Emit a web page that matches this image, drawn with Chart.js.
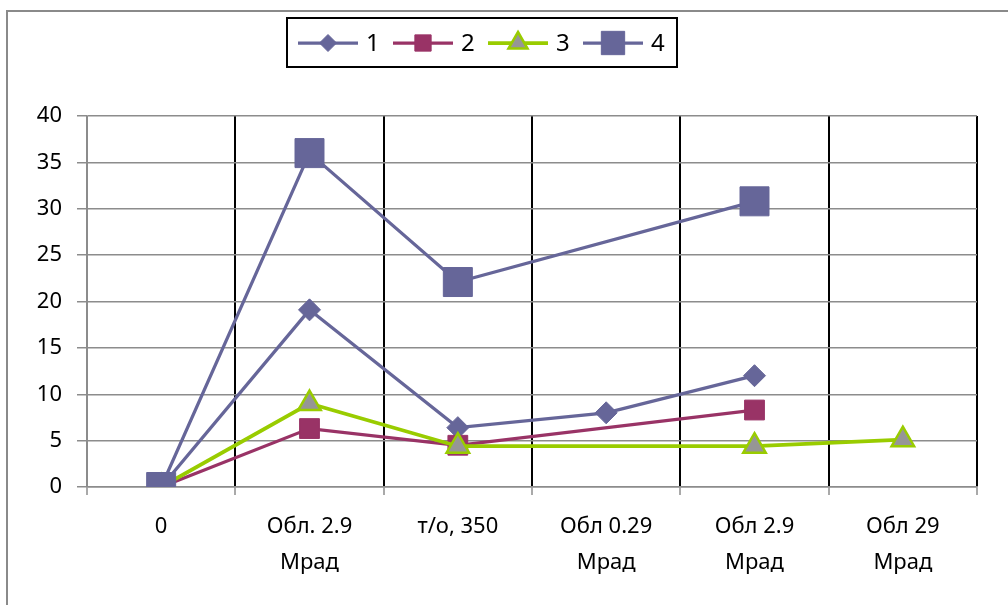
<!DOCTYPE html>
<html>
<head>
<meta charset="utf-8">
<script src="https://cdn.jsdelivr.net/npm/chart.js@4/dist/chart.umd.min.js"></script>
<style>
  html, body { margin: 0; padding: 0; background: #fff; }
  #wrap { width: 1008px; height: 605px; position: relative; }
</style>
</head>
<body>
<div id="wrap"><canvas id="c" width="1008" height="605"></canvas></div>
<script>
// Categories along the x axis (two-line labels where the label wraps)
const categories = ['0', ['Обл. 2.9', 'Мрад'], 'т/о, 350', ['Обл 0.29', 'Мрад'], ['Обл 2.9', 'Мрад'], ['Обл 29', 'Мрад']];

// Series names and values
const seriesNames = ['1', '2', '3', '4'];
const series1 = [0, 19.1, 6.4, 8.0, 12.0, null];
const series2 = [0, 6.3, 4.5, null, 8.3, null];
const series3 = [0, 9.0, 4.4, null, 4.4, 5.1];
const series4 = [0, 36.0, 22.1, null, 30.8, null];

// Value axis ticks
const yMin = 0, yMax = 40, yStep = 5;

const FONT = '"Noto Sans", "DejaVu Sans", sans-serif';
const GRID_GREY = '#8c8c8c';

// Line colour, marker fill, marker shape, marker radius (plot / legend), marker border
const styles = [
  { line: '#666699', fill: '#666699', style: 'rectRot',  r: 11,   lr: 8.5,  bw: 1,   lw: 3.25 },
  { line: '#993366', fill: '#993366', style: 'rect',     r: 14,   lr: 11.5, bw: 1,   lw: 3.25 },
  { line: '#99cc00', fill: '#969696', style: 'triangle', r: 13,   lr: 11,   bw: 2.5, lw: 3.75 },
  { line: '#666699', fill: '#666699', style: 'rect',     r: 20.5, lr: 16.5, bw: 1,   lw: 3.25 }
];
const seriesData = [series1, series2, series3, series4];

const datasets = seriesData.map((d, i) => ({
  label: seriesNames[i],
  data: d,
  borderColor: styles[i].line,
  backgroundColor: styles[i].fill,
  borderWidth: styles[i].lw,
  pointStyle: styles[i].style,
  pointRadius: styles[i].r,
  pointHoverRadius: styles[i].r,
  pointBackgroundColor: styles[i].fill,
  pointBorderColor: i === 2 ? styles[i].line : styles[i].fill,
  pointBorderWidth: styles[i].bw,
  spanGaps: true,
  tension: 0,
  order: 3 - i   // later series are painted on top
}));

// Outer frame of the chart object
const framePlugin = {
  id: 'frame',
  beforeDraw(chart) {
    const ctx = chart.ctx;
    ctx.save();
    ctx.strokeStyle = '#8a8a8a';
    ctx.lineWidth = 2;
    ctx.beginPath();
    ctx.moveTo(7, 605);
    ctx.lineTo(7, 11);
    ctx.lineTo(1008, 11);
    ctx.stroke();
    ctx.restore();
  }
};

// Boxed legend: line segment with marker, then series name
const legendPlugin = {
  id: 'boxLegend',
  afterDraw(chart) {
    const ctx = chart.ctx;
    const drawPoint = Chart.helpers.drawPoint;
    ctx.save();
    ctx.strokeStyle = '#000';
    ctx.lineWidth = 2;
    ctx.strokeRect(287, 18, 390, 49);
    const cy = 43;
    chart.data.datasets.forEach((ds, i) => {
      const x0 = 298 + i * 95;
      const x1 = x0 + 60;
      ctx.strokeStyle = ds.borderColor;
      ctx.lineWidth = ds.borderWidth;
      ctx.beginPath();
      ctx.moveTo(x0, cy);
      ctx.lineTo(x1, cy);
      ctx.stroke();
      ctx.fillStyle = ds.pointBackgroundColor;
      ctx.strokeStyle = ds.pointBorderColor;
      ctx.lineWidth = ds.pointBorderWidth;
      drawPoint(ctx, { pointStyle: ds.pointStyle, rotation: 0, radius: styles[i].lr, borderWidth: ds.pointBorderWidth }, (x0 + x1) / 2, cy);
      ctx.fillStyle = '#000';
      ctx.font = '24px ' + FONT;
      ctx.textBaseline = 'middle';
      ctx.textAlign = 'left';
      ctx.fillText(ds.label, x1 + 8, cy + 1);
    });
    ctx.restore();
  }
};

new Chart(document.getElementById('c'), {
  type: 'line',
  data: { labels: categories, datasets },
  options: {
    responsive: false,
    animation: false,
    devicePixelRatio: 1,
    layout: { padding: { left: 0, top: 116, right: 31, bottom: 0 } },
    plugins: {
      legend: { display: false },
      tooltip: { enabled: false }
    },
    scales: {
      x: {
        offset: true,
        grid: {
          offset: true,
          color: (c) => c.index === 0 ? GRID_GREY : '#000',
          lineWidth: 2,
          tickColor: GRID_GREY,
          tickWidth: 1.5,
          tickLength: 8,
          drawTicks: true
        },
        border: { color: GRID_GREY, width: 1.5 },
        ticks: {
          color: '#000',
          font: { family: FONT, size: 22, lineHeight: 36 / 22 },
          padding: 14,
          maxRotation: 0,
          autoSkip: false
        },
        afterFit(scale) { scale.height = 118; }
      },
      y: {
        min: yMin,
        max: yMax,
        ticks: {
          stepSize: yStep,
          color: '#000',
          font: { family: FONT, size: 22 },
          padding: 15
        },
        grid: {
          color: GRID_GREY,
          lineWidth: 1.5,
          tickColor: GRID_GREY,
          tickLength: 10
        },
        border: { color: GRID_GREY, width: 1.5 },
        afterFit(scale) { scale.width = 87; }
      }
    }
  },
  plugins: [framePlugin, legendPlugin]
});
</script>
</body>
</html>
